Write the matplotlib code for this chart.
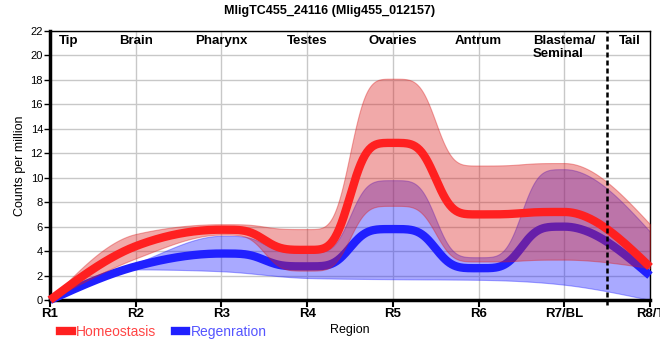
import numpy as np
import matplotlib
matplotlib.use('Agg')
import matplotlib.pyplot as plt
from matplotlib.lines import Line2D

plt.rcParams['font.family'] = ['Liberation Sans', 'DejaVu Sans']

# regions along the body
regions = ['R1', 'R2', 'R3', 'R4', 'R5', 'R6', 'R7/BL', 'R8/T']
tissues = ['Tip', 'Brain', 'Pharynx', 'Testes', 'Ovaries', 'Antrum', 'Blastema/\nSeminal', 'Tail']
tissue_pos = [0.22, 1.0, 2.0, 3.0, 4.0, 5.0, 6.0, 6.77]

# homeostasis: mean and band
home_mean = [0, 4.4, 5.75, 4.1, 12.85, 7.0, 7.2, 2.7]
home_upper = [0, 5.4, 6.2, 5.8, 18.1, 11.0, 11.2, 6.2]
home_lower = [0, 3.4, 5.35, 2.4, 7.7, 3.15, 3.3, 2.6]

# regeneration: mean and band
regen_mean = [0, 2.75, 3.8, 2.75, 5.8, 2.6, 6.0, 2.0]
regen_upper = [0, 3.0, 5.25, 3.9, 9.8, 3.5, 10.7, 5.6]
regen_lower = [0, 2.5, 2.35, 1.8, 1.7, 1.65, 1.25, 0]


def monotone(ys, n=80, k=1.8):
    # monotone cubic (like d3 curveMonotoneX), a bit sharper between flat points
    xs = np.arange(len(ys), dtype=float)
    ys = np.asarray(ys, dtype=float)
    h = np.diff(xs)
    s = np.diff(ys) / h
    t = np.zeros(len(xs))
    sg = lambda v: -1.0 if v < 0 else 1.0
    for i in range(1, len(xs) - 1):
        p = (s[i-1] * h[i] + s[i] * h[i-1]) / (h[i-1] + h[i])
        t[i] = (sg(s[i-1]) + sg(s[i])) * min(abs(s[i-1]), abs(s[i]), 0.5 * abs(p))
    t[0] = (3 * s[0] - t[1]) / 2
    t[-1] = (3 * s[-1] - t[-2]) / 2
    xx, yy = [], []
    for i in range(len(xs) - 1):
        u0 = np.linspace(0, 1, n, endpoint=(i == len(xs) - 2))
        u = u0
        if t[i] == 0 and t[i+1] == 0:
            u = u0**k / (u0**k + (1 - u0)**k)
        h00 = 2*u**3 - 3*u**2 + 1
        h10 = u**3 - 2*u**2 + u
        h01 = -2*u**3 + 3*u**2
        h11 = u**3 - u**2
        yy.append(h00*ys[i] + h10*h[i]*t[i] + h01*ys[i+1] + h11*h[i]*t[i+1])
        xx.append(xs[i] + u0*h[i])
    return np.concatenate(xx), np.concatenate(yy)


fig = plt.figure(figsize=(6.6, 3.6), dpi=100)
ax = fig.add_axes([50/660, 60/360, 600/660, 269/360])

red = '#dc1e1e'
blue = '#1e1eff'

x, bl = monotone(regen_lower)
_, bu = monotone(regen_upper)
ax.fill_between(x, bl, bu, facecolor=blue, alpha=0.38, edgecolor=blue, linewidth=0.8, zorder=2)
_, bm = monotone(regen_mean)
ax.plot(x, bm, color='#2020ff', lw=6, solid_capstyle='butt', zorder=3, clip_on=False)

_, hl = monotone(home_lower)
_, hu = monotone(home_upper)
ax.fill_between(x, hl, hu, facecolor=red, alpha=0.38, edgecolor=red, linewidth=0.8, zorder=4)
_, hm = monotone(home_mean)
ax.plot(x, hm, color='#ff2020', lw=6, solid_capstyle='butt', zorder=5, clip_on=False)

ax.axvline(6.5, ymin=-0.02, ymax=1, color='black', lw=1.8, ls=(0, (2, 1.2)), zorder=6, clip_on=False)

ax.set_xlim(0, 7)
ax.set_ylim(0, 22)
ax.set_xticks(range(len(regions)))
ax.set_xticklabels(regions, fontsize=9.5, fontweight='bold')
ax.set_yticks(range(0, 23, 2))
ax.tick_params(axis='y', labelsize=8, length=4, width=1, pad=1)
ax.tick_params(axis='x', length=5, width=1.5, pad=1)
ax.grid(True, color='#c8c8c8', lw=1)
ax.set_axisbelow(True)

ax.spines['left'].set_linewidth(2.5)
ax.spines['bottom'].set_linewidth(2.5)
ax.spines['top'].set_linewidth(1)
ax.spines['right'].set_linewidth(1)

for name, pos in zip(tissues, tissue_pos):
    ax.text(pos, 21.7, name, ha='center', va='top', fontsize=9.5, fontweight='bold',
            multialignment='left', linespacing=1.2, zorder=7)

ax.set_ylabel('Counts per million', fontsize=9, labelpad=3)
ax.set_xlabel('Region', fontsize=9, labelpad=3)
fig.suptitle('MligTC455_24116 (Mlig455_012157)', fontsize=9, fontweight='bold', y=0.985)

handles = [Line2D([], [], color='#ff2020', lw=6), Line2D([], [], color='#2020ff', lw=6)]
fig.legend(handles, ['Homeostasis', 'Regenration'], loc='lower left', bbox_to_anchor=(0.081, 0.04),
           ncol=2, frameon=False, fontsize=10, handlelength=0.8, handletextpad=0.3,
           columnspacing=1.4, labelcolor=['#ff4545', '#5555ff'], borderpad=0)

fig.savefig('out.png', dpi=100)
